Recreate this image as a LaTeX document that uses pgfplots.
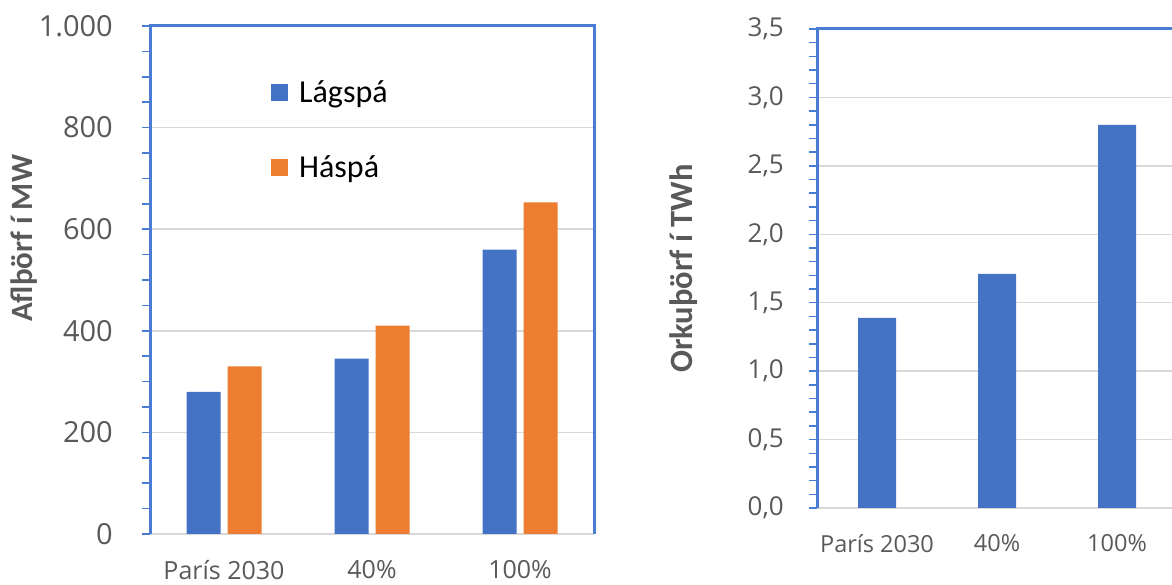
\documentclass[border=0pt]{standalone}
\usepackage{pgfplots}
\pgfplotsset{compat=1.18}
\usepackage{fontspec}
\setmainfont{Carlito}
\newfontfamily\osans{Open Sans}
\definecolor{barblue}{HTML}{4472C4}
\definecolor{barorange}{HTML}{ED7D31}
\definecolor{spine}{HTML}{4A7CD4}
\definecolor{txt}{HTML}{595959}
\definecolor{gridc}{HTML}{D9D9D9}
\pgfplotsset{
  sq/.style={legend image code/.code={\fill[##1,draw=none] (0pt,-8.5pt) rectangle (17pt,8.5pt); \path (26pt,0pt);}},
  common/.style={
    scale only axis,
    anchor=south west,
    clip=false,
    axis line style={draw=none},
    ymajorgrids,
    grid style={gridc, line width=1.5pt},
    tick align=outside,
    ytick pos=left,
    major tick length=8pt,
    minor tick length=8pt,
    tick style={spine, line width=1.5pt},
    xtick style={draw=none},
    xtick={0,1,2},
    xticklabels={París 2030, 40\%, 100\%},
    xmin=-0.5,
    ymin=0,
    ticklabel style={txt},
    yticklabel style={anchor=east, inner sep=0pt},
    xticklabel style={anchor=north, inner sep=0pt},
  }
}
\begin{document}
\begin{tikzpicture}
\path[use as bounding box] (0,0) rectangle (1172pt,585pt);
% left chart
\begin{axis}[common,
  at={(150pt,51pt)}, width=444pt, height=508pt,
  xmax=2.5, ymax=1000,
  ytick={0,200,400,600,800,1000},
  yticklabels={0,200,400,600,800,1.000},
  minor y tick num=3,
  yticklabel style={font=\osans\fontsize{29}{34}\selectfont, xshift=-29pt},
  xticklabel style={font=\osans\fontsize{25}{30}\selectfont, yshift=-18pt},
  ybar=7pt, bar width=34pt,
  ylabel={\bfseries Aflþörf í MW},
  every axis y label/.style={at={(axis description cs:-0.284,0.582)}, rotate=90, anchor=center, font=\fontsize{31}{36}\selectfont, text=txt},
  legend style={at={(axis description cs:0.2725,0.897)}, anchor=north west, draw=none, fill=none, inner sep=0pt,
    font=\fontsize{32}{38}\selectfont, row sep=48pt, cells={anchor=west}},
]
\addplot[fill=barblue, draw=none, sq] coordinates {(0,280) (1,345) (2,560)};
\addplot[fill=barorange, draw=none, sq] coordinates {(0,330) (1,410) (2,653)};
\legend{Lágspá, Háspá}
\draw[spine, line width=3pt] (rel axis cs:0,0) -- (rel axis cs:0,1) -- (rel axis cs:1,1) -- (rel axis cs:1,0);
\end{axis}
% right chart
\begin{axis}[common,
  at={(817pt,77pt)}, width=355pt, height=479pt,
  xmax=2.458, ymax=3.5,
  ytick={0,0.5,1,1.5,2,2.5,3,3.5},
  yticklabels={{0,0},{0,5},{1,0},{1,5},{2,0},{2,5},{3,0},{3,5}},
  minor y tick num=4,
  yticklabel style={font=\osans\fontsize{26}{30}\selectfont, xshift=-25pt},
  xticklabel style={font=\osans\fontsize{23.5}{28}\selectfont, yshift=-18pt},
  ybar=0pt, bar width=38pt,
  ylabel={\bfseries Orkuþörf í TWh},
  every axis y label/.style={at={(axis description cs:-0.377,0.5)}, rotate=90, anchor=center, font=\fontsize{32.5}{38}\selectfont, text=txt},
]
\addplot[fill=barblue, draw=none] coordinates {(0,1.39) (1,1.71) (2,2.80)};
\draw[spine, line width=3pt] (rel axis cs:0,0) -- (rel axis cs:0,1) -- (rel axis cs:1,1);
\end{axis}
\end{tikzpicture}
\end{document}
